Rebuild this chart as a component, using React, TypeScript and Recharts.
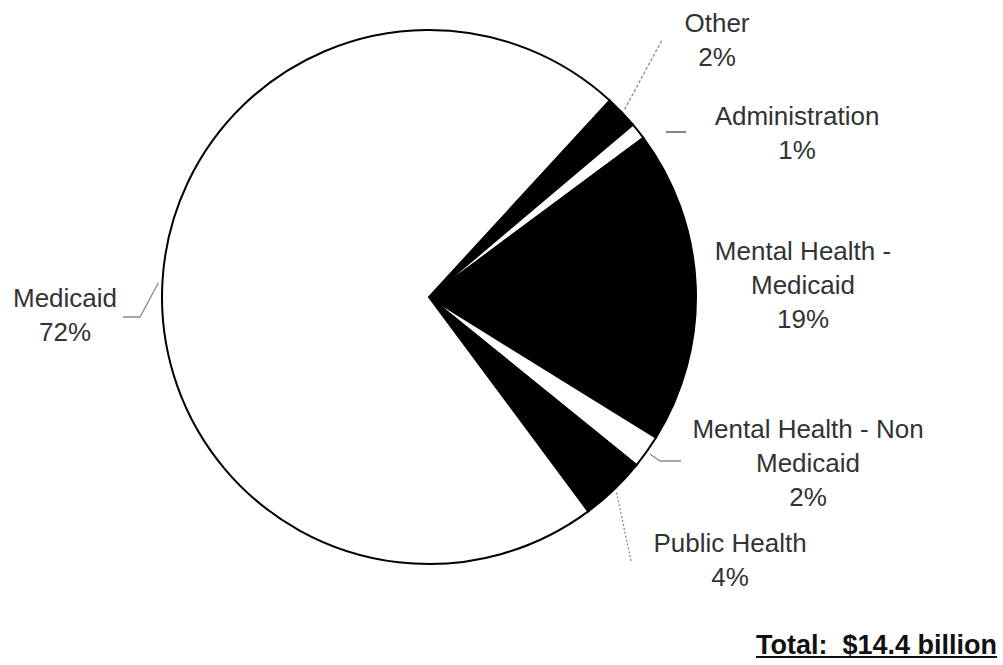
import { PieChart, Pie, Cell } from "recharts";

const categories = [
  "Other",
  "Administration",
  "Mental Health - Medicaid",
  "Mental Health - Non Medicaid",
  "Public Health",
  "Medicaid",
];
const shares = [2, 1, 19, 2, 4, 72];
const labelLines = [
  ["Other", "2%"],
  ["Administration", "1%"],
  ["Mental Health -", "Medicaid", "19%"],
  ["Mental Health - Non", "Medicaid", "2%"],
  ["Public Health", "4%"],
  ["Medicaid", "72%"],
];
const fills = ["#000", "#fff", "#000", "#fff", "#000", "#fff"];

const C = {
  text: "#333",
  leader: "#8a8a8a",
};

// label placement: center x, first baseline y, leader polyline (after the point on the rim)
const LAYOUT = [
  { x: 717, y: 32, leader: [[662, 40]], dash: "3 2", fromRim: true, stroke: C.leader },
  { x: 797, y: 125, leader: [[666, 132], [686, 132]], dash: undefined, fromRim: false, stroke: "#444" },
  { x: 803, y: 260, leader: [], dash: undefined, fromRim: false, stroke: C.leader },
  { x: 808, y: 438, leader: [[660, 461], [681, 461]], dash: undefined, fromRim: true, stroke: C.leader },
  { x: 730, y: 552, leader: [[631, 561]], dash: "2 2", fromRim: true, stroke: C.leader },
  { x: 65, y: 307, leader: [[140, 317], [123, 317]], dash: undefined, fromRim: true, stroke: C.leader },
];

const data = categories.map((name, i) => ({ name, value: shares[i] }));

const RAD = Math.PI / 180;

function renderLabel(props: any) {
  const { cx, cy, midAngle, outerRadius, index } = props;
  const lay = LAYOUT[index];
  const lines = labelLines[index];
  const r = outerRadius + 4;
  const sx = cx + r * Math.cos(-midAngle * RAD);
  const sy = cy + r * Math.sin(-midAngle * RAD);
  const pts = lay.fromRim ? [[sx, sy], ...lay.leader] : lay.leader;
  return (
    <g key={`lbl-${index}`}>
      {pts.length > 1 && (
        <polyline
          points={pts.map((p) => p.join(",")).join(" ")}
          fill="none"
          stroke={lay.stroke}
          strokeWidth={1.3}
          strokeDasharray={lay.dash}
        />
      )}
      {lines.map((t, j) => (
        <text
          key={j}
          x={lay.x}
          y={lay.y + j * 34}
          textAnchor="middle"
          fill={C.text}
          fontSize={26}
          fontFamily="Liberation Sans, Arial, sans-serif"
        >
          {t}
        </text>
      ))}
    </g>
  );
}

export default function App() {
  return (
    <div style={{ position: "absolute", left: 0, top: 0, width: 1003, height: 665, background: "#fff" }}>
      <PieChart width={1003} height={665} margin={{ top: 0, right: 0, bottom: 0, left: 0 }}>
        <Pie
          data={data}
          dataKey="value"
          nameKey="name"
          cx={429}
          cy={297}
          outerRadius={267}
          startAngle={47.4}
          endAngle={-312.6}
          stroke="#000"
          strokeWidth={2}
          label={renderLabel}
          labelLine={false}
          isAnimationActive={false}
        >
          {data.map((d, i) => (
            <Cell key={d.name} fill={fills[i]} />
          ))}
        </Pie>
      </PieChart>
      <div
        style={{
          position: "absolute",
          right: 6,
          top: 630,
          fontFamily: "Liberation Sans, Arial, sans-serif",
          fontWeight: 700,
          fontSize: 27,
          color: "#111",
          textDecoration: "underline",
          whiteSpace: "pre",
        }}
      >
        {"Total:  $14.4 billion"}
      </div>
    </div>
  );
}
